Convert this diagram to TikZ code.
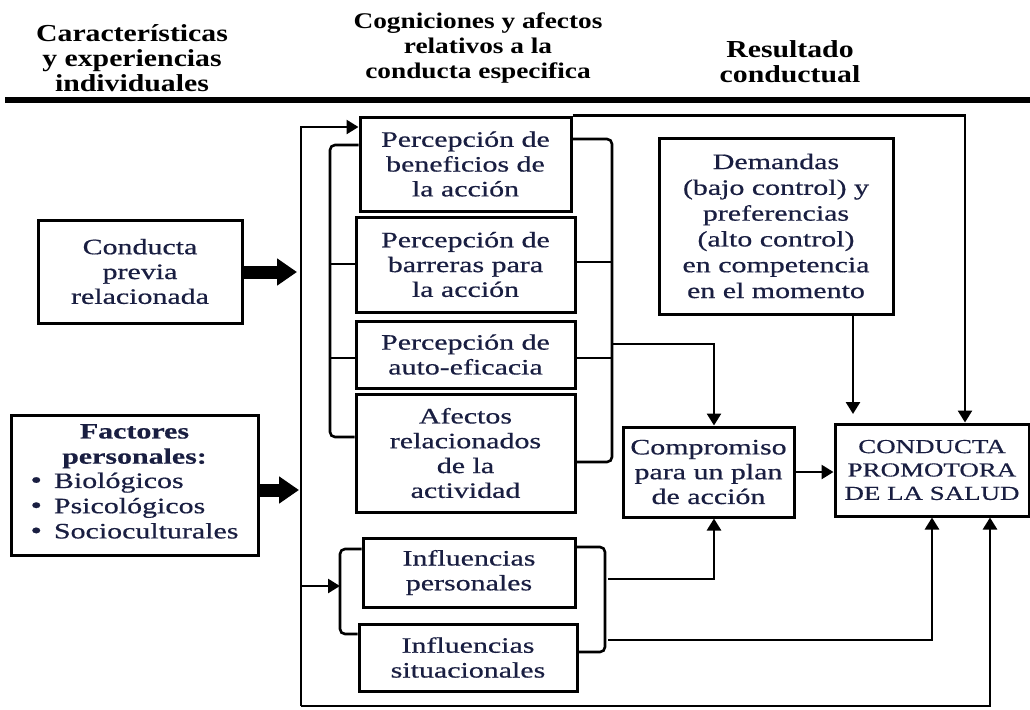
\documentclass[tikz,border=0pt]{standalone}
\usepackage{fontspec}
\setmainfont{Liberation Serif}[FakeStretch=1.36, FakeBold=0.6]
\newfontfamily\hdfont{Liberation Serif}[FakeStretch=1.22]
\usetikzlibrary{arrows.meta,calc}
\definecolor{txt}{RGB}{25,30,65}
\begin{document}
\begin{tikzpicture}[x=0.5pt,y=-0.5pt,
  box/.style={draw, line width=1.5pt, align=center, text=txt, inner sep=0pt,
    font=\fontsize{11}{12.4}\selectfont},
  sz/.style 2 args={minimum width=#1*0.5pt, minimum height=#2*0.5pt},
  conn/.style={line width=1.3pt},
  arr/.style={conn, -{Triangle[length=6pt,width=7pt]}},
  brk/.style={conn, rounded corners=2.5pt},
  fat/.style={line width=6.5pt, -{Triangle[length=10pt,width=13pt]}},
  head/.style={font=\hdfont\bfseries\fontsize{12.2}{12.5}\selectfont, align=center}]
\useasboundingbox (0,0) rectangle (1030,709);

% header
\node[head] (h1) at (132,58) {Características\\y experiencias\\individuales};
\node[head, font=\hdfont\bfseries\fontsize{11.2}{12.5}\selectfont] (h2) at (478,48) {Cogniciones y afectos\\relativos a la\\conducta especifica};
\node[head] (h3) at (790,62) {Resultado\\conductual};
\draw[line width=2.6pt] (5,100) -- (1030,100);

% boxes
\node[box, sz={211}{94}] (benef) at (465.5,164) {Percepción de\\beneficios de\\la acción};
\node[box, sz={219}{95}] (barr) at (465.5,264.5) {Percepción de\\barreras para\\la acción};
\node[box, sz={219}{67}] (auto) at (465.5,354.5) {Percepción de\\auto-eficacia};
\node[box, sz={219}{118}] (afect) at (465.5,453) {Afectos\\relacionados\\de la\\actividad};
\node[box, sz={171}{90}] (compr) at (708.5,472) {Compromiso\\para un plan\\de acción};
\node[box, sz={194}{92}, font=\fontsize{9.9}{11.7}\selectfont] (cond) at (932,470) {CONDUCTA\\PROMOTORA\\DE LA SALUD};
\node[box, sz={234}{176}, font=\fontsize{11}{12.9}\selectfont] (dem) at (776,226) {Demandas\\(bajo control) y\\preferencias\\(alto control)\\en competencia\\en el momento};
\node[box, sz={204}{103}] (prev) at (140,271.5) {Conducta\\previa\\relacionada};
\node[box, sz={247}{140}, font=\fontsize{11}{12.6}\selectfont] (fact) at (134.5,485) {\textbf{Factores}\\\textbf{personales:}\\
  \begin{tabular}{@{}l@{\hspace{6pt}}l@{}}{\large •}&Biológicos\\{\large •}&Psicológicos\\{\large •}&Socioculturales\end{tabular}};
\node[box, sz={212}{69}] (ipers) at (469,572.5) {Influencias\\personales};
\node[box, sz={218}{67}] (isit) at (468,657.5) {Influencias\\situacionales};

% coordinates
\coordinate (sTop) at (301,127);
\coordinate (sBot) at (301,706);
\coordinate (cx1) at (714,0);
\coordinate (cx2) at (965,0);
\coordinate (cx3) at (932,0);
\coordinate (cx4) at (990,0);
\coordinate (dEnd) at (853,414);
\coordinate (pl1) at (330,145);
\coordinate (pl2) at (330,264);
\coordinate (pl3) at (330,358);
\coordinate (pl4) at (330,437);
\coordinate (pr1) at (612,139);
\coordinate (pr2) at (612,262);
\coordinate (pr3) at (612,358);
\coordinate (pr4) at (612,462);
\coordinate (prc) at (612,344);
\coordinate (lbI) at (340,586);
\coordinate (li1) at (340,549);
\coordinate (li2) at (340,634);
\coordinate (ri1) at (605,547);
\coordinate (ri2) at (605,652);
\coordinate (ro1) at (608,579);
\coordinate (ro2) at (608,640);
\coordinate (fa1) at (297,272);
\coordinate (fa2) at (299,490);

% spine and feedback
\draw[arr] (sBot) -- (sTop) -- (benef.west |- sTop);
\draw[arr] (sBot) -| (cond.south -| cx4);
\draw[arr] (benef.north east) -| (cond.north -| cx2);

% fat arrows
\draw[fat] (prev.east |- fa1) -- (fa1);
\draw[fat] (fact.east |- fa2) -- (fa2);

% perception brackets
\draw[brk] (benef.west |- pl1) -- (pl1) -- (pl4) -- (afect.west |- pl4);
\draw[conn] (barr.west |- pl2) -- (pl2);
\draw[conn] (auto.west |- pl3) -- (pl3);
\draw[brk] (benef.east |- pr1) -- (pr1) -- (pr4) -- (afect.east |- pr4);
\draw[conn] (barr.east |- pr2) -- (pr2);
\draw[conn] (auto.east |- pr3) -- (pr3);
\draw[arr] (prc) -| (compr.north -| cx1);

% demandas
\draw[arr] (dem.south -| dEnd) -- (dEnd);

% compromiso to conducta
\draw[arr] (compr.east) -- (compr.east -| cond.west);

% influences
\draw[arr] (sBot |- lbI) -- (lbI);
\draw[brk] (ipers.west |- li1) -- (li1) -- (li2) -- (isit.west |- li2);
\draw[brk] (ipers.east |- ri1) -- (ri1) -- (ri2) -- (isit.east |- ri2);
\draw[arr] (ro1) -| (compr.south -| cx1);
\draw[arr] (ro2) -| (cond.south -| cx3);
\end{tikzpicture}
\end{document}
